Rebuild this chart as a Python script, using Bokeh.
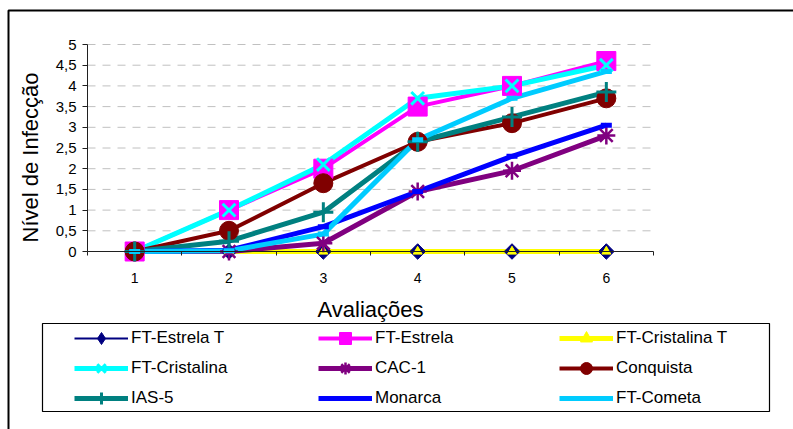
import numpy as np
from bokeh.plotting import figure
from bokeh.models import (FixedTicker, CustomJSTickFormatter, Legend, LegendItem,
                          BoxAnnotation, ColumnDataSource, LinearAxis)
from bokeh.embed import file_html
from bokeh.resources import INLINE

# ---- data ----
avaliacoes = [1, 2, 3, 4, 5, 6]
series_names = ["FT-Estrela T", "FT-Estrela", "FT-Cristalina T", "FT-Cristalina",
                "CAC-1", "Conquista", "IAS-5", "Monarca", "FT-Cometa"]
ft_estrela_t = [0, 0, 0, 0, 0, 0]
ft_estrela = [0, 1, 2, 3.5, 4, 4.6]
ft_cristalina_t = [0, 0, 0, 0, 0, 0]
ft_cristalina = [0, 1, 2.1, 3.7, 4, 4.5]
cac_1 = [0, 0, 0.2, 1.45, 1.95, 2.8]
conquista = [0, 0.5, 1.65, 2.65, 3.1, 3.7]
ias_5 = [0, 0.25, 0.95, 2.65, 3.25, 3.85]
monarca = [0, 0.03, 0.6, 1.45, 2.3, 3.05]
ft_cometa = [0, 0.02, 0.42, 2.7, 3.7, 4.35]
y_ticks = [0, 0.5, 1, 1.5, 2, 2.5, 3, 3.5, 4, 4.5, 5]
x_ticks = [1, 2, 3, 4, 5, 6]
x_separators = [0.5, 1.5, 2.5, 3.5, 4.5, 5.5, 6.5]

values = [ft_estrela_t, ft_estrela, ft_cristalina_t, ft_cristalina,
          cac_1, conquista, ias_5, monarca, ft_cometa]

# ---- layout (pixels) ----
W, H = 793, 429
PLOT_L, PLOT_R, PLOT_T, PLOT_B = 87, 653, 44, 251
x0, x1 = x_separators[0], x_separators[-1]
y0, y1 = y_ticks[0], y_ticks[-1]
sx = (PLOT_R - PLOT_L) / (x1 - x0)
sy = (PLOT_B - PLOT_T) / (y1 - y0)
x_range = (x0 - PLOT_L / sx, x1 + (W - PLOT_R) / sx)
y_range = (y0 - (H - PLOT_B) / sy, y1 + PLOT_T / sy)
YLABEL_CENTER_PX = 157  # vertical centre of the y-axis title on the canvas

FONT = "Liberation Sans"
styles = [
    dict(color="#000080", lw=2, marker="square", size=11, angle=np.pi / 4, mlw=1),
    dict(color="#FF00FF", lw=4, marker="square", size=19, angle=0, mlw=1),
    dict(color="#FFFF00", lw=5, marker="triangle", size=9, angle=0, mlw=1),
    dict(color="#00FFFF", lw=5, marker="x", size=18, angle=0, mlw=3),
    dict(color="#800080", lw=5, marker="asterisk", size=18, angle=0, mlw=2.5),
    dict(color="#800000", lw=4, marker="circle", size=19, angle=0, mlw=1),
    dict(color="#008080", lw=5, marker="cross", size=20, angle=0, mlw=3),
    dict(color="#0000FF", lw=5, marker="dash", size=11, angle=0, mlw=5),
    dict(color="#00CCFF", lw=5, marker="dash", size=11, angle=0, mlw=5),
]

p = figure(width=W, height=H, x_range=x_range, y_range=y_range,
           output_backend="svg", toolbar_location=None,
           x_axis_location=None, y_axis_location=None, min_border=0)
p.outline_line_color = None
p.background_fill_color = "white"
p.border_fill_color = "white"
p.xgrid.visible = False
p.ygrid.visible = False

# outer chart frame
p.add_layout(BoxAnnotation(left=8, right=W + 50, top=H - 10, bottom=-50,
                           left_units="screen", right_units="screen",
                           top_units="screen", bottom_units="screen",
                           fill_color=None, fill_alpha=0, line_color="black",
                           line_alpha=1, line_width=2))

# dashed horizontal gridlines
p.segment(x0=[x0] * (len(y_ticks) - 1), x1=[x1] * (len(y_ticks) - 1),
          y0=y_ticks[1:], y1=y_ticks[1:], line_color="#c0c0c0",
          line_width=1, line_dash="8 7")


def style_y(ax):
    ax.ticker = FixedTicker(ticks=y_ticks, minor_ticks=[])
    ax.formatter = CustomJSTickFormatter(code="return String(tick).replace('.', ',')")
    ax.axis_line_color = "#202020"
    ax.major_tick_out = 5
    ax.major_tick_in = 0
    ax.major_tick_line_color = "#202020"
    ax.major_label_standoff = 6
    ax.major_label_text_font = FONT
    ax.major_label_text_font_size = "15px"
    ax.major_label_text_color = "black"


# axes
xa = LinearAxis(fixed_location=0)
xa.ticker = FixedTicker(ticks=x_ticks, minor_ticks=x_separators)
xa.bounds = (x0, x1)
xa.axis_line_color = "#202020"
xa.major_tick_out = 0
xa.major_tick_in = 0
xa.minor_tick_out = 4
xa.minor_tick_in = 0
xa.minor_tick_line_color = "#202020"
xa.major_label_standoff = 17
xa.major_label_text_font = FONT
xa.major_label_text_font_size = "14px"
xa.major_label_text_color = "black"
xa.axis_label = "Avaliações"
xa.axis_label_text_font = FONT
xa.axis_label_text_font_size = "22px"
xa.axis_label_text_font_style = "normal"
xa.axis_label_text_color = "black"
xa.axis_label_standoff = 11
p.add_layout(xa, "below")

ya = LinearAxis(fixed_location=x0)
style_y(ya)
ya.bounds = (y0, y1)
p.add_layout(ya, "left")

# invisible twin of the y axis that only carries the title
ylab_low = y1 - 2 * (y1 - (PLOT_B - YLABEL_CENTER_PX) / sy)
yt = LinearAxis(fixed_location=x0)
style_y(yt)
yt.bounds = (ylab_low, y1)
yt.axis_line_alpha = 0
yt.major_tick_line_alpha = 0
yt.major_label_text_alpha = 0
yt.axis_label = "Nível de Infecção"
yt.axis_label_text_font = FONT
yt.axis_label_text_font_size = "22px"
yt.axis_label_text_font_style = "normal"
yt.axis_label_text_color = "black"
yt.axis_label_standoff = 40
p.add_layout(yt, "left")

# lines first, then markers (as in the original chart)
line_rs = []
for name, vals, st in zip(series_names, values, styles):
    src = ColumnDataSource(dict(x=avaliacoes, y=vals))
    r = p.line("x", "y", source=src, line_color=st["color"], line_width=st["lw"])
    line_rs.append(r)

legend_marker = []
for k, (name, vals, st) in enumerate(zip(series_names, values, styles)):
    src = ColumnDataSource(dict(x=avaliacoes, y=vals))
    if k == 0:
        # plain diamond (covered by the rotated square) used for the legend glyph
        d = p.scatter("x", "y", source=src, marker="diamond", size=12,
                      fill_color=st["color"], line_color=st["color"])
    r = p.scatter("x", "y", source=src, marker=st["marker"], size=st["size"],
                  angle=st["angle"], fill_color=st["color"], line_color=st["color"],
                  line_width=st["mlw"])
    legend_marker.append(d if k == 0 else r)

# legend frame
LG_L, LG_R, LG_T, LG_B = 42, 769, 323, 411
p.add_layout(BoxAnnotation(left=LG_L, right=LG_R, top=H - LG_T, bottom=H - LG_B,
                           left_units="screen", right_units="screen",
                           top_units="screen", bottom_units="screen",
                           fill_color=None, fill_alpha=0, line_color="black",
                           line_alpha=1, line_width=1.2))

# legends: three columns
col_x = [74, 318, 559]
legend_bottom = H - 413
for c in range(3):
    items = []
    for rrow in range(3):
        i = rrow * 3 + c
        items.append(LegendItem(label=series_names[i],
                                renderers=[line_rs[i], legend_marker[i]]))
    lg = Legend(items=items, location=(col_x[c], legend_bottom), orientation="vertical",
                padding=0, margin=0, spacing=-2, glyph_width=54, glyph_height=30,
                label_height=30, label_standoff=3, border_line_color=None,
                background_fill_alpha=0, label_text_font=FONT,
                label_text_font_size="17px", label_text_color="black")
    p.add_layout(lg)

open("out.html", "w").write(file_html(p, INLINE))
